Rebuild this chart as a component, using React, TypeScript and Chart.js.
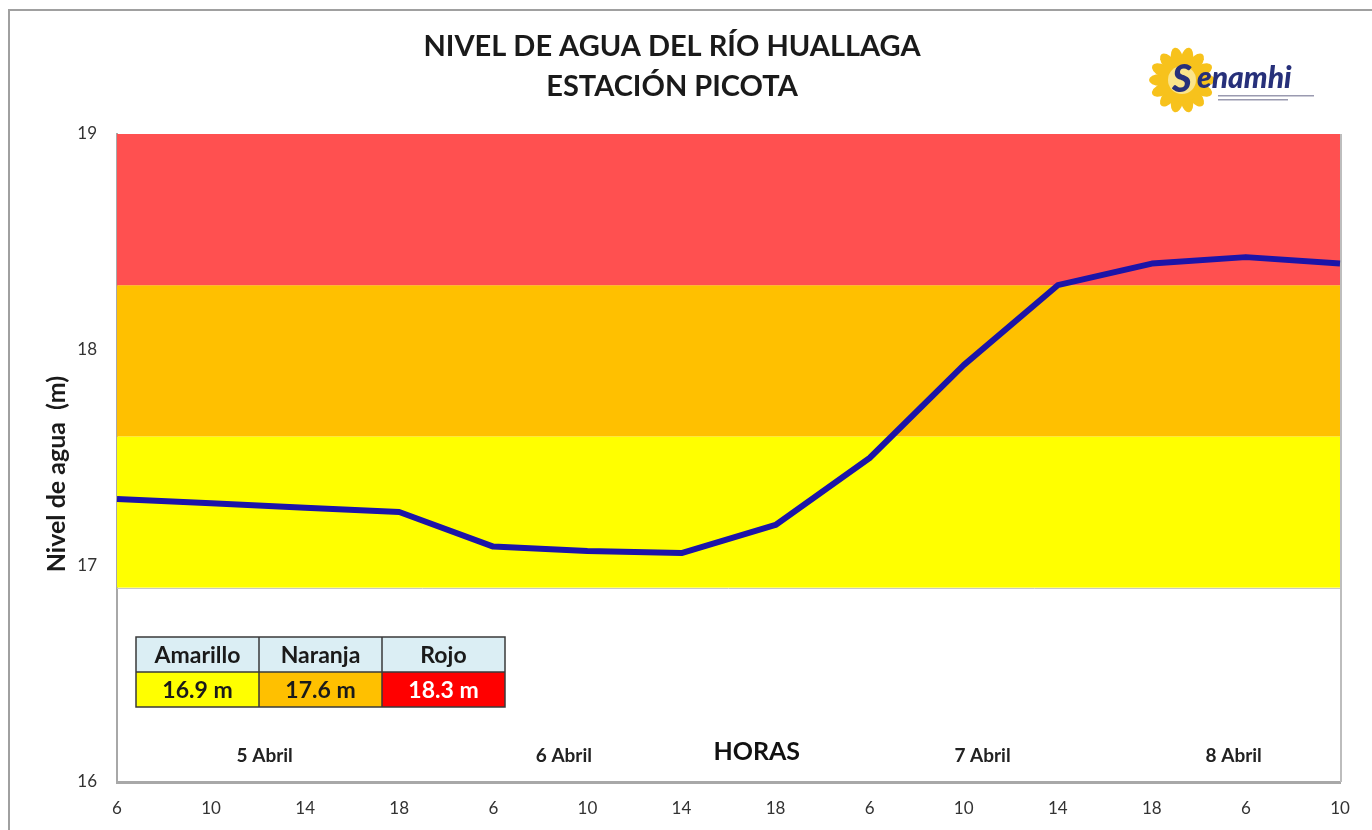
import React, { useEffect, useRef } from "react";
import { Chart, registerables } from "chart.js";

Chart.register(...registerables);

const hourLabels = ["6", "10", "14", "18", "6", "10", "14", "18", "6", "10", "14", "18", "6", "10"];
const waterLevel = [17.31, 17.29, 17.27, 17.25, 17.09, 17.07, 17.06, 17.19, 17.5, 17.93, 18.3, 18.4, 18.43, 18.4];
const alertThresholds = [16.9, 17.6, 18.3, 19];
const alertNames = ["Amarillo", "Naranja", "Rojo"];
const alertValueTexts = ["16.9 m", "17.6 m", "18.3 m"];
const dayLabels = ["5 Abril", "6 Abril", "7 Abril", "8 Abril"];
const dayLabelIndex = [1.57, 4.75, 9.2, 11.87];
const yTicks = [16, 17, 18, 19];

const FONT = "Lato, 'Open Sans', sans-serif";
const bandColors = ["#ffff00", "#ffc000", "#ff5050"];
const tableValueBg = ["#ffff00", "#ffc000", "#ff0000"];
const tableValueFg = ["#1a1a1a", "#1a1a1a", "#ffffff"];

const decorPlugin = {
  id: "decor",
  beforeDatasetsDraw(chart: any) {
    const { ctx, chartArea, scales } = chart;
    const y = scales.y;
    ctx.save();
    for (let i = 0; i < alertThresholds.length - 1; i++) {
      const top = y.getPixelForValue(alertThresholds[i + 1]);
      const bot = y.getPixelForValue(alertThresholds[i]);
      ctx.fillStyle = bandColors[i];
      ctx.fillRect(chartArea.left, top, chartArea.right - chartArea.left, bot - top);
    }
    ctx.strokeStyle = "#c8c8c8";
    ctx.lineWidth = 1;
    const yb = Math.round(y.getPixelForValue(alertThresholds[0])) + 0.5;
    ctx.beginPath();
    ctx.moveTo(chartArea.left, yb);
    ctx.lineTo(chartArea.right, yb);
    ctx.stroke();
    ctx.strokeStyle = "#bdbdbd";
    ctx.lineWidth = 2;
    ctx.beginPath();
    ctx.moveTo(chartArea.right + 1, chartArea.top);
    ctx.lineTo(chartArea.right + 1, chartArea.bottom);
    ctx.stroke();
    ctx.restore();
  },
  afterDraw(chart: any) {
    const { ctx, scales } = chart;
    const x = scales.x;
    ctx.save();
    ctx.strokeStyle = "#a0a0a0";
    ctx.lineWidth = 2;
    ctx.beginPath();
    ctx.moveTo(9, 840);
    ctx.lineTo(9, 10);
    ctx.lineTo(1372, 10);
    ctx.stroke();

    ctx.fillStyle = "#1a1a1a";
    ctx.textAlign = "center";
    ctx.textBaseline = "middle";
    ctx.font = `bold 29px ${FONT}`;
    ctx.fillText("NIVEL DE AGUA DEL RÍO HUALLAGA", 672, 47);
    ctx.fillText("ESTACIÓN PICOTA", 672, 87);

    ctx.save();
    ctx.translate(57, 474);
    ctx.rotate(-Math.PI / 2);
    ctx.font = `bold 25px ${FONT}`;
    ctx.fillText("Nivel de agua  (m)", 0, 0);
    ctx.restore();

    ctx.font = `bold 19px ${FONT}`;
    ctx.fillStyle = "#222";
    dayLabels.forEach((d, i) => {
      ctx.fillText(d, x.getPixelForValue(dayLabelIndex[i]), 756);
    });
    ctx.font = `bold 25px ${FONT}`;
    ctx.fillStyle = "#111";
    ctx.fillText("HORAS", x.getPixelForValue(6.8), 752);

    const tx = 136, ty = 637, cw = 123, rh = 35;
    for (let i = 0; i < 3; i++) {
      ctx.fillStyle = "#dbeef4";
      ctx.fillRect(tx + i * cw, ty, cw, rh);
      ctx.fillStyle = tableValueBg[i];
      ctx.fillRect(tx + i * cw, ty + rh, cw, rh);
    }
    ctx.strokeStyle = "#3a3a3a";
    ctx.lineWidth = 1.5;
    ctx.strokeRect(tx, ty, cw * 3, rh * 2);
    ctx.beginPath();
    ctx.moveTo(tx, ty + rh);
    ctx.lineTo(tx + cw * 3, ty + rh);
    for (let i = 1; i < 3; i++) {
      ctx.moveTo(tx + i * cw, ty);
      ctx.lineTo(tx + i * cw, ty + rh * 2);
    }
    ctx.stroke();
    ctx.font = `bold 23px ${FONT}`;
    for (let i = 0; i < 3; i++) {
      ctx.fillStyle = "#1a1a1a";
      ctx.fillText(alertNames[i], tx + i * cw + cw / 2, ty + rh / 2 + 1);
      ctx.fillStyle = tableValueFg[i];
      ctx.fillText(alertValueTexts[i], tx + i * cw + cw / 2, ty + rh * 1.5 + 1);
    }

    const cx = 1182, cy = 80;
    ctx.fillStyle = "#f7c21c";
    for (let k = 0; k < 14; k++) {
      const a = (k / 14) * Math.PI * 2;
      ctx.beginPath();
      ctx.ellipse(cx + Math.cos(a) * 22, cy + Math.sin(a) * 22, 11, 6, a, 0, Math.PI * 2);
      ctx.fill();
    }
    ctx.beginPath();
    ctx.arc(cx, cy, 22, 0, Math.PI * 2);
    ctx.fill();
    ctx.fillStyle = "#fbe48a";
    ctx.beginPath();
    ctx.arc(cx, cy, 14, 0, Math.PI * 2);
    ctx.fill();
    ctx.fillStyle = "#27307a";
    ctx.textAlign = "left";
    ctx.textBaseline = "alphabetic";
    ctx.font = `italic 900 38px ${FONT}`;
    ctx.fillText("S", 1172, 92);
    ctx.font = `italic 900 30px ${FONT}`;
    ctx.fillText("enamhi", 1197, 88);
    ctx.fillStyle = "#9a9ab0";
    ctx.fillRect(1218, 95, 96, 1.5);
    ctx.fillRect(1218, 99, 70, 1.5);
    ctx.restore();
  },
};

export default function App() {
  const ref = useRef<HTMLCanvasElement | null>(null);
  useEffect(() => {
    if (!ref.current) return;
    const chart = new Chart(ref.current, {
      type: "line",
      data: {
        labels: hourLabels,
        datasets: [
          {
            data: waterLevel,
            borderColor: "#1c14a8",
            borderWidth: 6,
            pointRadius: 0,
            tension: 0,
            fill: false,
            borderJoinStyle: "round",
          },
        ],
      },
      options: {
        responsive: false,
        animation: false,
        layout: { padding: { top: 134, right: 32, left: 0, bottom: 0 } },
        plugins: { legend: { display: false }, tooltip: { enabled: false } },
        scales: {
          x: {
            type: "category",
            offset: false,
            grid: { display: false, drawTicks: false },
            border: { display: true, color: "#a8a8a8", width: 3 },
            ticks: {
              color: "#333",
              font: { family: FONT, size: 17 },
              padding: 16,
              maxRotation: 0,
              autoSkip: false,
            },
            afterFit(scale: any) {
              scale.height = 48;
            },
          },
          y: {
            min: 16,
            max: 19,
            grid: { display: false, drawTicks: false },
            border: { display: true, color: "#a8a8a8", width: 2 },
            afterBuildTicks(scale: any) {
              scale.ticks = yTicks.map((v) => ({ value: v }));
            },
            ticks: {
              color: "#333",
              font: { family: FONT, size: 17 },
              padding: 20,
            },
            afterFit(scale: any) {
              scale.width = 117;
            },
          },
        },
      },
      plugins: [decorPlugin],
    } as any);
    return () => chart.destroy();
  }, []);
  return (
    <div style={{ position: "absolute", left: 0, top: 0, width: 1372, height: 830, background: "#fff" }}>
      <canvas ref={ref} width={1372} height={830} style={{ display: "block" }} />
    </div>
  );
}
